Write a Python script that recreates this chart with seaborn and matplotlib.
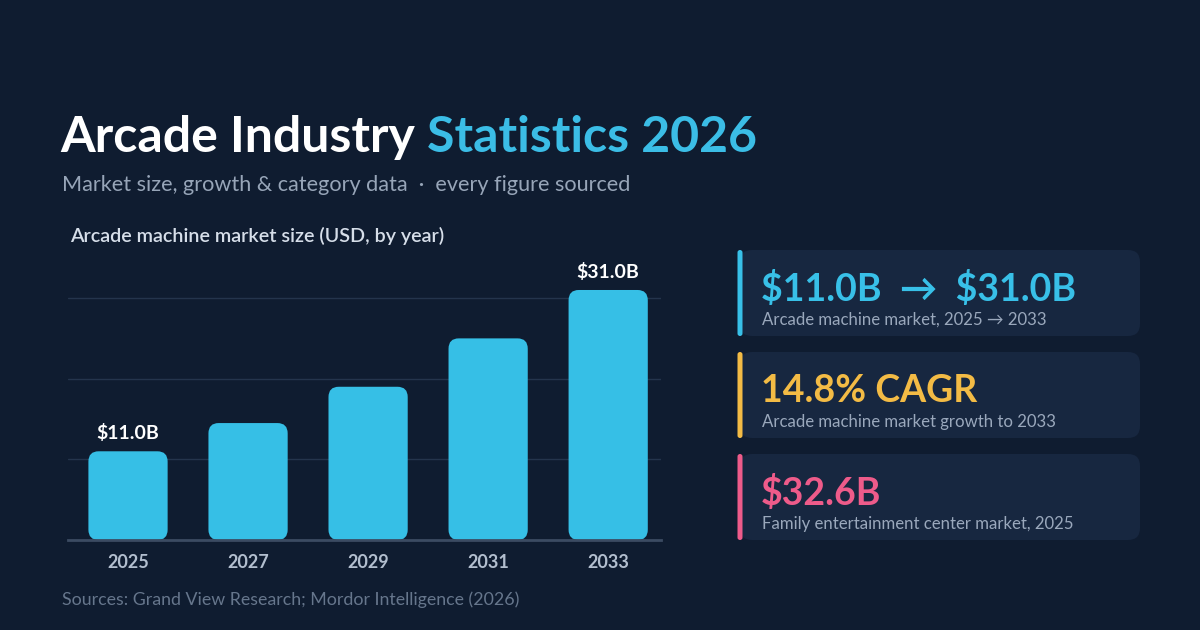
import matplotlib
matplotlib.use('Agg')
import matplotlib.pyplot as plt
import seaborn as sns
import pandas as pd
from matplotlib.patches import FancyBboxPatch

# data
years = ['2025', '2027', '2029', '2031', '2033']
market_size = [11.0, 14.5, 19.0, 25.0, 31.0]
labelled = {'2025': r'\$11.0B', '2033': r'\$31.0B'}

card_values = [r'\$11.0B  →  \$31.0B', '14.8% CAGR', r'\$32.6B']
card_notes = ['Arcade machine market, 2025 → 2033',
              'Arcade machine market growth to 2033',
              'Family entertainment center market, 2025']
card_colors = ['#38c0e8', '#f3bb45', '#ee5b8a']

# colours
BG = '#0f1c30'
BAR = '#36bfe6'
CARD = '#172740'

sns.set_theme(style='dark')
plt.rcParams['font.family'] = ['Lato', 'DejaVu Sans']

df = pd.DataFrame({'year': years, 'size': market_size})

fig = plt.figure(figsize=(12, 6.3), dpi=100)
fig.patch.set_facecolor(BG)

# full-figure layer in pixel coords for text and cards
bg = fig.add_axes([0, 0, 1, 1], zorder=0)
bg.set_xlim(0, 1200)
bg.set_ylim(630, 0)
bg.axis('off')
bg.set_facecolor('none')

# title
t1 = bg.text(60, 137, 'Arcade Industry', color='white', fontsize=36,
             fontweight='bold', va='center', ha='left')
fig.canvas.draw()
bb = t1.get_window_extent()
bg.text(60 + bb.width + 12, 137, 'Statistics 2026', color='#3bbde6',
        fontsize=36, fontweight='bold', va='center', ha='left')
bg.text(62, 185, 'Market size, growth & category data  ·  every figure sourced',
        color='#97a5b8', fontsize=15.6, va='center', ha='left')
bg.text(70, 236, 'Arcade machine market size (USD, by year)', color='#d6dee9',
        fontsize=14.2, fontweight='semibold', va='center', ha='left')
bg.text(62, 600, 'Sources: Grand View Research; Mordor Intelligence (2026)',
        color='#66768c', fontsize=12.8, va='center', ha='left')

# cards
card_tops = [250, 352, 454]
for top, val, note, col in zip(card_tops, card_values, card_notes, card_colors):
    bg.add_patch(FancyBboxPatch((740, top), 400, 86,
                                boxstyle='round,pad=0,rounding_size=12',
                                fc=CARD, ec='none'))
    bg.add_patch(FancyBboxPatch((737.5, top), 5, 86,
                                boxstyle='round,pad=0,rounding_size=2.5',
                                fc=col, ec='none'))
    bg.text(761, top + 39, val, color=col, fontsize=27, fontweight='bold',
            va='center', ha='left')
    bg.text(762, top + 70, note, color='#9aa8bc', fontsize=12.1,
            va='center', ha='left')

# bar chart
ax = fig.add_axes([68 / 1200, 90 / 630, (661 - 68) / 1200, 280 / 630], zorder=1)
ax.set_facecolor('none')
sns.barplot(data=df, x='year', y='size', color=BAR, width=0.66,
            saturation=1, ax=ax)
ax.set_xlim(-0.5, 4.44)
ax.set_ylim(0, 280 / 8.065)

# swap bars for rounded ones
for p in list(ax.patches):
    x, w, h = p.get_x(), p.get_width(), p.get_height()
    p.remove()
    ax.add_patch(FancyBboxPatch((x, 0), w, h,
                                boxstyle='round,pad=0,rounding_size=0.085',
                                mutation_aspect=15, fc=BAR, ec='none', zorder=3))

for i, (yr, v) in enumerate(zip(years, market_size)):
    if yr in labelled:
        ax.annotate(labelled[yr], (i, v), xytext=(0, 13), textcoords='offset points',
                    ha='center', va='center', color='white', fontsize=14,
                    fontweight='bold')

ax.set_yticks([10, 20, 30])
ax.yaxis.grid(True, color='#24344c', lw=1)
ax.xaxis.grid(False)
ax.tick_params(axis='y', left=False, labelleft=False)
ax.tick_params(axis='x', bottom=False, colors='#b2bece', labelsize=13, pad=4)
for lab in ax.get_xticklabels():
    lab.set_fontweight('bold')
for s in ['top', 'right', 'left']:
    ax.spines[s].set_visible(False)
ax.spines['bottom'].set_color('#3b4b62')
ax.spines['bottom'].set_linewidth(2)
ax.spines['bottom'].set_zorder(4)
ax.set_xlabel('')
ax.set_ylabel('')

fig.savefig('out.png', dpi=100, facecolor=BG)
